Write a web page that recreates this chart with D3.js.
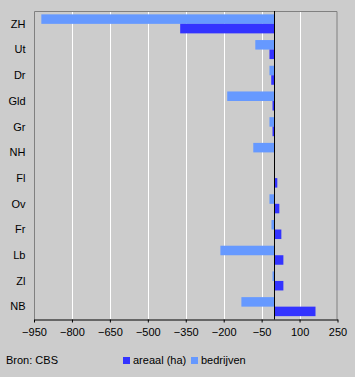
<!DOCTYPE html>
<html><head><meta charset="utf-8">
<script src="https://cdn.jsdelivr.net/npm/d3@7"></script>
<style>
html,body{margin:0;padding:0;background:#cccccc;}
svg{display:block;font-family:Arial,"Liberation Sans",sans-serif;}
</style></head>
<body>
<svg id="c" width="355" height="377"></svg>
<script>
const categories = ["ZH","Ut","Dr","Gld","Gr","NH","Fl","Ov","Fr","Lb","Zl","NB"];
const bedrijven = [-921,-75,-19,-186,-19,-83,0,-19,-11,-213,-7,-130];
const areaal = [-372,-19,-12,-7,-7,0,12,20,28,36,36,163];
const seriesNames = ["bedrijven","areaal (ha)"];
const tickValues = [-950,-800,-650,-500,-350,-200,-50,100,250];
const colors = {"bedrijven":"#6699ff","areaal (ha)":"#3333ff"};

const svg = d3.select("#c");
const L = 34, R = 337.5, T = 11, B = 319.5;
const x = d3.scaleLinear().domain([-950,250]).range([L,R]);
const y = d3.scaleBand().domain(categories).range([T,B]).paddingInner(0.26).paddingOuter(0.13);
const ys = d3.scaleBand().domain(seriesNames).range([0,y.bandwidth()]);

// gridlines
svg.append("g").selectAll("line").data(tickValues.slice(1,-1)).join("line")
  .attr("x1",d=>Math.round(x(d))+0.5).attr("x2",d=>Math.round(x(d))+0.5)
  .attr("y1",T).attr("y2",B).attr("stroke","#ffffff").attr("stroke-width",1);

// border
svg.append("path").attr("d",`M${L+0.5},${B}V${T+0.5}H${R-0.5}V${B}`)
  .attr("fill","none").attr("stroke","#808080").attr("stroke-width",1);

// bars
const rows = categories.map((c,i)=>({c, vals:[{s:"bedrijven",v:bedrijven[i]},{s:"areaal (ha)",v:areaal[i]}]}));
const g = svg.append("g");
rows.forEach(r=>{
  g.selectAll(null).data(r.vals.filter(d=>d.v!==0)).join("rect")
    .attr("x",d=>x(Math.min(0,d.v)))
    .attr("width",d=>Math.abs(x(d.v)-x(0)))
    .attr("y",d=>y(r.c)+ys(d.s))
    .attr("height",ys.bandwidth())
    .attr("fill",d=>colors[d.s]);
});

// zero line
svg.append("line").attr("x1",Math.round(x(0))+0.5).attr("x2",Math.round(x(0))+0.5)
  .attr("y1",T).attr("y2",B).attr("stroke","#000").attr("stroke-width",1);

// x axis
const xa = svg.append("g").attr("transform",`translate(0,${B})`)
  .call(d3.axisBottom(x).tickValues(tickValues).tickSize(3).tickSizeOuter(0).tickPadding(6));
xa.select(".domain").attr("stroke","#000").attr("stroke-width",1);
xa.selectAll(".tick line").attr("stroke","#000");
xa.selectAll("text").attr("font-size",11).attr("fill","#000").attr("font-family","Arial,'Liberation Sans',sans-serif");

// y labels
svg.append("g").selectAll("text").data(categories).join("text")
  .attr("x",25.5).attr("y",d=>y(d)+y.bandwidth()/2)
  .attr("dy","0.35em").attr("text-anchor","end").attr("font-size",11).attr("fill","#000")
  .text(d=>d);

// source
svg.append("text").attr("x",6).attr("y",364).attr("font-size",11).attr("fill","#000").text("Bron: CBS");

// legend
const leg = [{s:"areaal (ha)",x:123},{s:"bedrijven",x:191}];
leg.forEach(l=>{
  svg.append("rect").attr("x",l.x).attr("y",357).attr("width",7).attr("height",7).attr("fill",colors[l.s]);
  svg.append("text").attr("x",l.x+10).attr("y",364).attr("font-size",11).attr("fill","#000").text(l.s);
});
</script>
</body></html>
